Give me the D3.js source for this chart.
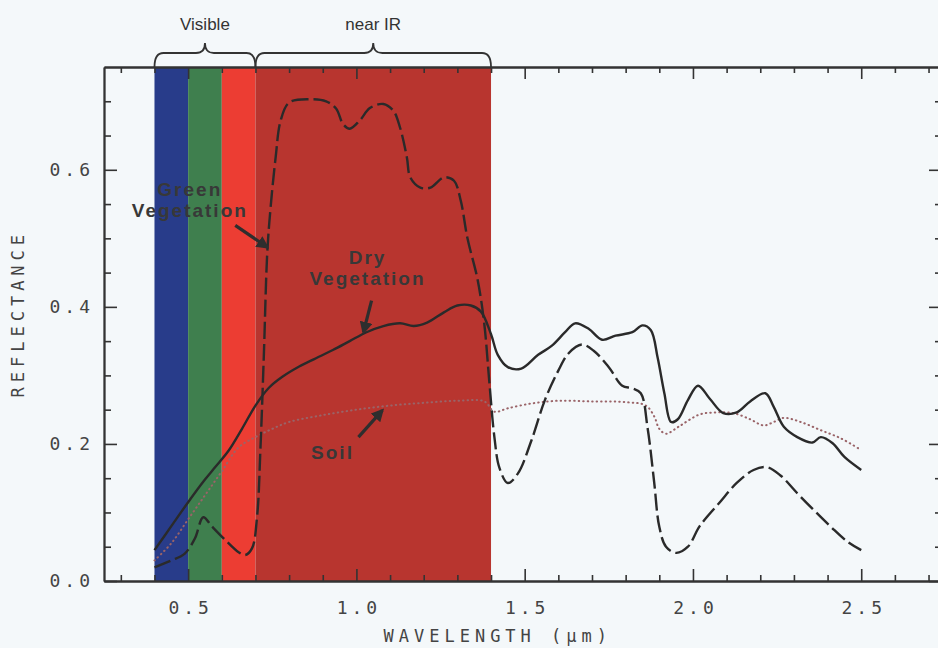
<!DOCTYPE html>
<html>
<head>
<meta charset="utf-8">
<script src="https://cdn.jsdelivr.net/npm/d3@7"></script>
<style>
html, body { margin: 0; padding: 0; background: #f4f8fa; }
svg { display: block; }
</style>
</head>
<body>
<svg width="938" height="648"></svg>
<script>
// spectra: [wavelength (um), reflectance]
const greenVegetation = [
    [0.40, 0.020], [0.45, 0.030], [0.49, 0.040], [0.52, 0.062], [0.545, 0.093],
    [0.57, 0.080], [0.61, 0.060], [0.65, 0.042], [0.67, 0.038], [0.69, 0.048],
    [0.705, 0.095], [0.715, 0.195], [0.725, 0.330], [0.735, 0.478], [0.745, 0.545],
    [0.76, 0.618], [0.775, 0.672], [0.80, 0.698], [0.86, 0.703], [0.91, 0.700],
    [0.94, 0.689], [0.96, 0.667], [0.98, 0.660], [1.01, 0.672], [1.04, 0.690],
    [1.08, 0.696], [1.11, 0.686], [1.13, 0.661], [1.15, 0.618], [1.16, 0.589],
    [1.19, 0.574], [1.22, 0.574], [1.26, 0.589], [1.29, 0.584], [1.31, 0.555],
    [1.33, 0.500], [1.36, 0.440], [1.38, 0.375], [1.395, 0.290], [1.41, 0.210],
    [1.425, 0.165], [1.45, 0.143], [1.48, 0.157], [1.52, 0.205], [1.56, 0.264],
    [1.60, 0.307], [1.63, 0.332], [1.67, 0.345], [1.705, 0.336], [1.75, 0.312],
    [1.79, 0.285], [1.82, 0.281], [1.845, 0.274], [1.865, 0.224], [1.885, 0.143],
    [1.90, 0.079], [1.92, 0.050], [1.95, 0.041], [1.985, 0.050], [2.02, 0.080],
    [2.08, 0.115], [2.13, 0.143], [2.18, 0.162], [2.22, 0.166], [2.26, 0.154],
    [2.31, 0.128], [2.36, 0.103], [2.41, 0.079], [2.46, 0.057], [2.50, 0.045]
];

const dryVegetation = [
    [0.40, 0.045], [0.45, 0.080], [0.50, 0.115], [0.55, 0.148], [0.58, 0.166],
    [0.62, 0.190], [0.66, 0.222], [0.70, 0.256], [0.74, 0.282], [0.78, 0.298],
    [0.83, 0.313], [0.88, 0.325], [0.93, 0.337], [0.98, 0.350], [1.03, 0.363],
    [1.08, 0.372], [1.13, 0.376], [1.17, 0.372], [1.21, 0.377], [1.26, 0.392],
    [1.30, 0.402], [1.34, 0.402], [1.37, 0.393], [1.40, 0.360], [1.42, 0.330],
    [1.45, 0.312], [1.49, 0.310], [1.54, 0.330], [1.58, 0.343], [1.62, 0.363],
    [1.65, 0.376], [1.69, 0.368], [1.73, 0.352], [1.77, 0.358], [1.82, 0.363],
    [1.85, 0.373], [1.875, 0.366], [1.895, 0.326], [1.915, 0.274], [1.935, 0.232],
    [1.955, 0.236], [1.985, 0.264], [2.015, 0.285], [2.05, 0.266], [2.09, 0.245],
    [2.13, 0.246], [2.17, 0.262], [2.215, 0.274], [2.24, 0.254], [2.27, 0.225],
    [2.31, 0.210], [2.355, 0.202], [2.38, 0.210], [2.415, 0.201], [2.45, 0.181],
    [2.50, 0.162]
];

const soil = [
    [0.40, 0.030], [0.45, 0.055], [0.50, 0.090], [0.55, 0.125], [0.60, 0.160],
    [0.65, 0.195], [0.70, 0.210], [0.75, 0.222], [0.80, 0.232], [0.90, 0.242],
    [1.00, 0.250], [1.10, 0.256], [1.20, 0.260], [1.30, 0.263], [1.38, 0.262],
    [1.41, 0.247], [1.45, 0.252], [1.52, 0.259], [1.60, 0.263], [1.70, 0.262],
    [1.80, 0.261], [1.86, 0.256], [1.885, 0.240], [1.90, 0.222], [1.92, 0.215],
    [1.96, 0.226], [2.02, 0.243], [2.07, 0.246], [2.12, 0.245], [2.17, 0.236],
    [2.21, 0.227], [2.24, 0.232], [2.27, 0.238], [2.32, 0.232], [2.38, 0.220],
    [2.44, 0.208], [2.50, 0.191]
];

// spectral bands (um)
const bandStarts = [0.4, 0.5, 0.6, 0.7];
const bandEnds = [0.5, 0.6, 0.7, 1.4];

// braces above the plot
const braceRanges = [[0.4, 0.7], [0.7, 1.4]];
const braceLabels = ['Visible', 'near IR'];

const xMajorTicks = [0.5, 1.0, 1.5, 2.0, 2.5];
const yMajorTicks = [0.0, 0.2, 0.4, 0.6];

const svg = d3.select('svg');
const width = 938;
const height = 648;
const ink = '#333';
const bandColors = ['#283c8a', '#3f7f4e', '#ec3d33', '#b8352f'];

const margin = { top: 67, right: -4, bottom: 67, left: 104 };
const innerWidth = width - margin.left - margin.right;
const innerHeight = height - margin.top - margin.bottom;

const xScale = d3.scaleLinear()
    .domain([0.25, 2.74])
    .range([0, innerWidth]);

const yScale = d3.scaleLinear()
    .domain([0, 0.75])
    .range([innerHeight, 0]);

const g = svg.append('g')
    .attr('transform', `translate(${margin.left},${margin.top})`);

// coloured bands
g.selectAll('.band')
    .data(bandStarts)
    .join('rect')
    .attr('class', 'band')
    .attr('x', d => xScale(d))
    .attr('width', (d, i) => xScale(bandEnds[i]) - xScale(d))
    .attr('y', yScale(0.75))
    .attr('height', yScale(0) - yScale(0.75))
    .attr('fill', (d, i) => bandColors[i]);

// braces
const braceLine = ([a, b]) => {
    const x0 = xScale(a), x1 = xScale(b), xm = (x0 + x1) / 2;
    const y0 = 0, y1 = -14, y2 = -24;
    return `M${x0},${y0} Q${x0},${y1} ${x0 + 9},${y1} L${xm - 9},${y1} Q${xm},${y1} ${xm},${y2}`
        + ` Q${xm},${y1} ${xm + 9},${y1} L${x1 - 9},${y1} Q${x1},${y1} ${x1},${y0}`;
};

g.selectAll('.brace')
    .data(braceRanges)
    .join('path')
    .attr('class', 'brace')
    .attr('d', braceLine)
    .attr('fill', 'none')
    .attr('stroke', ink)
    .attr('stroke-width', 1.8);

g.selectAll('.brace-label')
    .data(braceRanges)
    .join('text')
    .attr('class', 'brace-label')
    .attr('x', d => xScale((d[0] + d[1]) / 2))
    .attr('y', -37)
    .attr('text-anchor', 'middle')
    .attr('font-family', 'Liberation Sans, Arial, sans-serif')
    .attr('font-size', 17)
    .attr('fill', ink)
    .text((d, i) => braceLabels[i]);

// axes, ticks inward on all four sides
const styleAxis = sel => {
    sel.selectAll('.domain').attr('stroke', ink).attr('stroke-width', 1.8);
    sel.selectAll('.tick line').attr('stroke', ink).attr('stroke-width', 1.6);
    sel.selectAll('text')
        .attr('font-family', 'DejaVu Sans Mono, monospace')
        .attr('font-size', 18)
        .attr('letter-spacing', 4)
        .attr('fill', '#444');
};
const noLabels = sel => sel.selectAll('.tick text').remove();

const xMinor = d3.range(3, 28).map(d => d / 10).filter(d => !xMajorTicks.includes(d));
const yMinor = d3.range(1, 15).map(d => d / 20).filter(d => !yMajorTicks.some(t => Math.abs(t - d) < 1e-9));

const xAxisG = g.append('g')
    .attr('transform', `translate(0,${innerHeight})`)
    .call(d3.axisBottom(xScale).tickValues(xMajorTicks).tickSize(-12).tickSizeOuter(0)
        .tickPadding(20).tickFormat(d3.format('.1f')))
    .call(styleAxis);
xAxisG.selectAll('text').attr('dx', 2);

g.append('g')
    .attr('transform', `translate(0,${innerHeight})`)
    .call(d3.axisBottom(xScale).tickValues(xMinor).tickSize(-6).tickSizeOuter(0))
    .call(styleAxis).call(noLabels);

g.append('g')
    .call(d3.axisTop(xScale).tickValues(xMajorTicks).tickSize(-12).tickSizeOuter(0))
    .call(styleAxis).call(noLabels);
g.append('g')
    .call(d3.axisTop(xScale).tickValues(xMinor).tickSize(-6).tickSizeOuter(0))
    .call(styleAxis).call(noLabels);

g.append('g')
    .call(d3.axisLeft(yScale).tickValues(yMajorTicks).tickSize(-13).tickSizeOuter(0)
        .tickPadding(10).tickFormat(d3.format('.1f')))
    .call(styleAxis);
g.append('g')
    .call(d3.axisLeft(yScale).tickValues(yMinor).tickSize(-7).tickSizeOuter(0))
    .call(styleAxis).call(noLabels);

g.append('g')
    .attr('transform', `translate(${innerWidth},0)`)
    .call(d3.axisRight(yScale).tickValues(yMajorTicks).tickSize(-13).tickSizeOuter(0))
    .call(styleAxis).call(noLabels);
g.append('g')
    .attr('transform', `translate(${innerWidth},0)`)
    .call(d3.axisRight(yScale).tickValues(yMinor).tickSize(-7).tickSizeOuter(0))
    .call(styleAxis).call(noLabels);

// axis titles
g.append('text')
    .attr('x', xScale(1.42))
    .attr('y', innerHeight + 61)
    .attr('text-anchor', 'middle')
    .attr('font-family', 'DejaVu Sans Mono, monospace')
    .attr('font-size', 17)
    .attr('letter-spacing', 5)
    .attr('fill', '#444')
    .text('WAVELENGTH  (\u00b5m)');

g.append('text')
    .attr('transform', `translate(-80,${yScale(0.39)}) rotate(-90)`)
    .attr('text-anchor', 'middle')
    .attr('font-family', 'DejaVu Sans Mono, monospace')
    .attr('font-size', 17)
    .attr('letter-spacing', 5)
    .attr('fill', '#444')
    .text('REFLECTANCE');

// spectra
const lineGenerator = d3.line()
    .x(d => xScale(d[0]))
    .y(d => yScale(d[1]))
    .curve(d3.curveCatmullRom.alpha(0.5));

g.append('path')
    .attr('d', lineGenerator(soil))
    .attr('fill', 'none')
    .attr('stroke', '#9a6468')
    .attr('stroke-width', 2)
    .attr('stroke-linecap', 'round')
    .attr('stroke-dasharray', '0.5,4');

g.append('path')
    .attr('d', lineGenerator(greenVegetation))
    .attr('fill', 'none')
    .attr('stroke', '#2a2a2a')
    .attr('stroke-width', 2.4)
    .attr('stroke-dasharray', '17,5');

g.append('path')
    .attr('d', lineGenerator(dryVegetation))
    .attr('fill', 'none')
    .attr('stroke', '#2a2a2a')
    .attr('stroke-width', 2.4);

// annotations
const labelNames = [['Green', 'Vegetation'], ['Dry', 'Vegetation'], ['Soil']];
const labelAt = [[0.505, 0.562], [1.033, 0.462], [0.929, 0.178]];
const arrowFrom = [[0.640, 0.519], [1.045, 0.409], [1.006, 0.210]];
const arrowTo = [[0.735, 0.487], [1.021, 0.363], [1.077, 0.249]];

svg.append('defs').append('marker')
    .attr('id', 'head')
    .attr('viewBox', '0 0 10 10')
    .attr('refX', 8)
    .attr('refY', 5)
    .attr('markerWidth', 4)
    .attr('markerHeight', 4)
    .attr('orient', 'auto')
    .append('path')
    .attr('d', 'M0,0 L10,5 L0,10 Z')
    .attr('fill', '#2e2e2e');

const labels = g.selectAll('.label')
    .data(labelNames)
    .join('text')
    .attr('class', 'label')
    .attr('text-anchor', 'middle')
    .attr('font-family', 'Liberation Sans, Arial, sans-serif')
    .attr('font-size', 19)
    .attr('font-weight', 'bold')
    .attr('letter-spacing', 2)
    .attr('fill', '#383838');

labels.selectAll('tspan')
    .data((d, i) => d.map(s => ({ s, i })))
    .join('tspan')
    .attr('x', d => xScale(labelAt[d.i][0]))
    .attr('y', (d, j) => yScale(labelAt[d.i][1]) + j * 21)
    .text(d => d.s);

g.selectAll('.arrow')
    .data(arrowFrom)
    .join('line')
    .attr('class', 'arrow')
    .attr('x1', d => xScale(d[0]))
    .attr('y1', d => yScale(d[1]))
    .attr('x2', (d, i) => xScale(arrowTo[i][0]))
    .attr('y2', (d, i) => yScale(arrowTo[i][1]))
    .attr('stroke', '#2e2e2e')
    .attr('stroke-width', 3.2)
    .attr('marker-end', 'url(#head)');
</script>
</body>
</html>
